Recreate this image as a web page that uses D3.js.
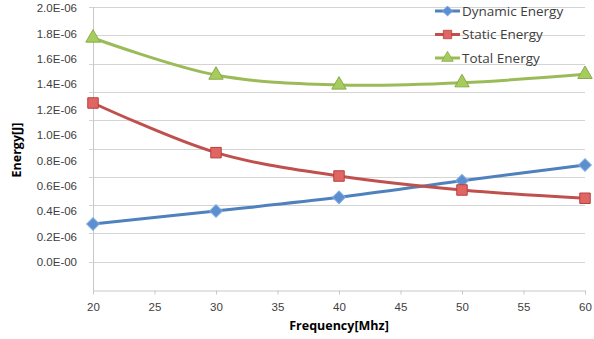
<!DOCTYPE html>
<html>
<head>
<meta charset="utf-8">
<script src="https://cdn.jsdelivr.net/npm/d3@7"></script>
<style>
  body { margin: 0; background: #fff; }
  svg { display: block; font-family: "Open Sans", "Liberation Sans", sans-serif; }
</style>
</head>
<body>
<div id="chart"></div>
<script>
// chart data
var frequencies = [20, 30, 40, 50, 60];
var dynamicEnergy = [0.299e-6, 0.402e-6, 0.509e-6, 0.640e-6, 0.764e-6];
var staticEnergy = [1.252e-6, 0.861e-6, 0.677e-6, 0.567e-6, 0.502e-6];
var totalEnergy = [1.764e-6, 1.472e-6, 1.394e-6, 1.412e-6, 1.478e-6];
var seriesNames = ['Dynamic Energy', 'Static Energy', 'Total Energy'];
var xTicks = [20, 25, 30, 35, 40, 45, 50, 55, 60];
var yTicks = [0, 0.2e-6, 0.4e-6, 0.6e-6, 0.8e-6, 1.0e-6, 1.2e-6, 1.4e-6, 1.6e-6, 1.8e-6, 2.0e-6];
var yTickLabels = ['0.0E-00', '0.2E-06', '0.4E-06', '0.6E-06', '0.8E-06', '1.0E-06',
  '1.2E-06', '1.4E-06', '1.6E-06', '1.8E-06', '2.0E-06'];

var width = 594,
  height = 339;

var svg = d3.select('#chart')
  .append('svg')
  .attr('width', width)
  .attr('height', height);

var x = d3.scaleLinear().domain([20, 60]).range([93, 585]);
// value scale (labels and marks)
var y = d3.scaleLinear().domain([0, 2e-6]).range([262, 8]);
// gridlines are spaced on their own in the picture
var grid = d3.scaleLinear().domain([0, 10]).range([290, 7]);

// horizontal gridlines
svg.append('g')
  .selectAll('line')
  .data(d3.range(1, 11))
  .enter()
  .append('line')
  .attr('x1', 89)
  .attr('x2', 585)
  .attr('y1', d => Math.round(grid(d)) + 0.5)
  .attr('y2', d => Math.round(grid(d)) + 0.5)
  .attr('stroke', '#d4d4d4')
  .attr('stroke-width', 1);

// vertical axis line
svg.append('line')
  .attr('x1', 93.5).attr('x2', 93.5)
  .attr('y1', Math.round(grid(10))).attr('y2', Math.round(grid(0)) + 1)
  .attr('stroke', '#c8c8c8');

// x axis
var xAxis = svg.append('g')
  .attr('transform', 'translate(0,' + (Math.round(grid(0)) + 0.5) + ')')
  .call(d3.axisBottom(x).tickValues(xTicks).tickSize(4).tickPadding(8).tickSizeOuter(0));
xAxis.select('.domain').attr('stroke', '#c8c8c8');
xAxis.selectAll('.tick line').attr('stroke', '#c8c8c8');
xAxis.selectAll('text')
  .attr('fill', '#404040')
  .style('font-size', '11.5px');

// y axis labels
var yAxis = svg.append('g')
  .attr('transform', 'translate(77,0)')
  .call(d3.axisLeft(y).tickValues(yTicks).tickSize(0).tickPadding(0)
    .tickFormat((d, i) => yTickLabels[i]));
yAxis.select('.domain').remove();
yAxis.selectAll('text')
  .attr('fill', '#404040')
  .style('font-size', '11.5px');

// axis titles
svg.append('text')
  .attr('x', 339)
  .attr('y', 330)
  .attr('text-anchor', 'middle')
  .style('font-size', '12.5px')
  .style('font-weight', 'bold')
  .text('Frequency[Mhz]');

svg.append('text')
  .attr('transform', 'translate(21,150) rotate(-90)')
  .attr('text-anchor', 'middle')
  .style('font-size', '12.5px')
  .style('font-weight', 'bold')
  .text('Energy[J]');

var series = [
  { name: seriesNames[0], values: dynamicEnergy, color: '#4f81bd', fill: '#5b8fd0', edge: '#7fa8e0', shape: 'diamond' },
  { name: seriesNames[1], values: staticEnergy, color: '#c0504d', fill: '#e06663', edge: '#b8403d', shape: 'square' },
  { name: seriesNames[2], values: totalEnergy, color: '#9bbb59', fill: '#a6cc5e', edge: '#8aab4a', shape: 'triangle' }
];

function marker(sel, s) {
  if (s.shape === 'diamond') {
    sel.append('path')
      .attr('d', d3.symbol(d3.symbolSquare, 80)())
      .attr('transform', 'rotate(45)')
      .attr('fill', s.fill)
      .attr('stroke', s.edge)
      .attr('stroke-width', 1);
  } else if (s.shape === 'square') {
    sel.append('path')
      .attr('d', d3.symbol(d3.symbolSquare, 110)())
      .attr('fill', s.fill)
      .attr('stroke', s.edge)
      .attr('stroke-width', 1);
  } else {
    sel.append('path')
      .attr('d', d3.symbol(d3.symbolTriangle, 90)())
      .attr('fill', s.fill)
      .attr('stroke', s.edge)
      .attr('stroke-width', 1);
  }
}

var line = d3.line()
  .x((d, i) => x(frequencies[i]))
  .y(d => y(d))
  .curve(d3.curveCatmullRom.alpha(0.5));

series.forEach(function (s) {
  svg.append('path')
    .datum(s.values)
    .attr('d', line)
    .attr('fill', 'none')
    .attr('stroke', s.color)
    .attr('stroke-width', 3);
});

series.forEach(function (s) {
  svg.append('g')
    .selectAll('g')
    .data(s.values)
    .enter()
    .append('g')
    .attr('transform', (d, i) => 'translate(' + x(frequencies[i]) + ',' + y(d) + ')')
    .each(function () { marker(d3.select(this), s); });
});

// legend
var legend = svg.append('g')
  .selectAll('g')
  .data(series)
  .enter()
  .append('g')
  .attr('transform', (d, i) => 'translate(435,' + (11 + i * 23.5) + ')');

legend.append('line')
  .attr('x1', 0).attr('x2', 25)
  .attr('stroke', d => d.color)
  .attr('stroke-width', 3);

legend.each(function (d) {
  var g = d3.select(this).append('g')
    .attr('transform', 'translate(12.5,0) scale(0.8)');
  marker(g, d);
});

legend.append('text')
  .attr('x', 27)
  .attr('dy', '0.35em')
  .attr('fill', '#404040')
  .style('font-size', '13.5px')
  .text(d => d.name);
</script>
</body>
</html>
